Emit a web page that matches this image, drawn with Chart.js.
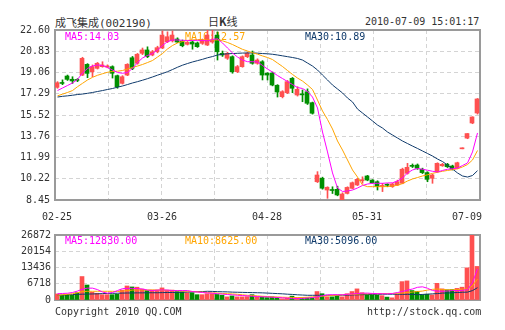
<!DOCTYPE html>
<html>
<head>
<meta charset="utf-8">
<script src="https://cdn.jsdelivr.net/npm/chart.js@4.4.1/dist/chart.umd.min.js"></script>
<style>
  body { margin: 0; background: #fff; }
  #wrap { position: relative; width: 505px; height: 330px; overflow: hidden;
          font-family: "DejaVu Sans Mono", monospace; font-size: 10px; color: #333; }
  #wrap canvas { position: absolute; left: 0; }
  .txt { position: absolute; white-space: nowrap; line-height: 12px; }
  .cjk { font-family: "Noto Sans CJK SC", sans-serif; }
</style>
</head>
<body>
<div id="wrap">
  <div class="txt" style="left:55px;top:16px;font-size:11px"><span class="cjk">成飞集成</span>(002190)</div>
  <div class="txt cjk" style="left:208px;top:15px;font-size:11px">日<b>K</b>线</div>
  <div class="txt" style="left:365px;top:16px">2010-07-09 15:01:17</div>
  <canvas id="priceChart" width="505" height="225" style="top:0"></canvas>
  <canvas id="volChart" width="505" height="105" style="top:225px"></canvas>
  <div class="txt" style="left:55px;top:306px">Copyright 2010 QQ.COM</div>
  <div class="txt" style="left:367px;top:306px">http://stock.qq.com</div>
</div>
<script>
// axis labels: date text and the session it sits under
const dateTicks = ['02-25', '03-26', '04-28', '05-31', '07-09'];
const dateIdx = [0, 21, 42, 62, 82];
const priceTicks = [8.45, 10.22, 11.99, 13.76, 15.52, 17.29, 19.06, 20.83, 22.60];
const volTicks = [0, 6718, 13436, 20154, 26872];

// daily candles, 85 sessions
const opens = [17.83, 18.22, 18.77, 18.50, 18.48, 18.85, 19.74, 19.13, 19.41, 19.55,
  19.52, 19.55, 18.80, 18.16, 18.85, 20.29, 19.83, 20.66, 20.94, 20.52,
  20.79, 21.10, 21.63, 21.70, 21.85, 21.68, 21.41, 21.60, 21.52, 21.49,
  21.35, 21.60, 22.18, 20.66, 20.25, 20.38, 19.13, 19.55, 20.38, 20.52,
  19.83, 19.96, 19.00, 19.02, 18.00, 17.05, 17.38, 18.58, 17.19, 17.25,
  17.46, 16.55, 9.97, 10.26, 9.28, 9.30, 9.34, 8.47, 9.00, 9.42,
  9.70, 10.05, 10.45, 10.11, 9.97, 9.58, 9.73, 9.56, 9.70, 9.84,
  10.67, 11.30, 11.36, 11.01, 10.73, 10.26, 10.81, 11.30, 11.42, 11.28,
  11.09, 12.71, 13.60, 14.86, 15.69];
const highs = [18.30, 18.45, 18.85, 18.71, 18.55, 20.33, 19.80, 19.69, 19.90, 19.96,
  19.70, 19.62, 18.85, 18.80, 19.80, 20.40, 20.65, 21.10, 21.20, 20.90,
  21.25, 22.52, 22.45, 22.52, 21.95, 21.77, 21.65, 21.70, 21.60, 21.85,
  22.60, 22.60, 22.45, 20.85, 20.75, 20.45, 19.65, 20.45, 20.75, 20.85,
  20.20, 20.05, 19.05, 19.10, 18.05, 17.55, 18.40, 18.65, 17.88, 17.61,
  17.70, 16.60, 10.81, 10.35, 9.55, 9.55, 9.60, 9.05, 9.55, 9.95,
  10.25, 10.38, 10.50, 10.15, 10.05, 9.84, 9.80, 9.85, 10.10, 11.10,
  11.50, 11.45, 11.45, 11.10, 10.80, 10.60, 11.55, 11.50, 11.50, 11.35,
  11.60, 12.71, 13.98, 15.38, 16.90];
const lows = [17.75, 18.05, 18.40, 18.15, 18.30, 18.80, 18.63, 18.71, 19.35, 19.50,
  19.45, 18.60, 17.75, 18.10, 18.80, 19.30, 19.75, 20.55, 20.30, 20.45,
  20.70, 21.05, 21.55, 21.60, 21.55, 21.20, 21.35, 21.00, 21.15, 21.40,
  21.30, 21.50, 20.10, 20.40, 20.15, 19.00, 19.05, 19.50, 20.30, 19.75,
  19.75, 18.44, 18.44, 17.95, 17.02, 16.95, 17.30, 17.38, 17.10, 16.63,
  16.40, 15.60, 9.90, 9.35, 8.59, 8.99, 8.80, 8.45, 8.95, 9.38,
  9.65, 9.84, 10.05, 9.85, 9.28, 9.15, 9.55, 9.50, 9.65, 9.80,
  10.60, 11.15, 11.00, 10.65, 9.97, 9.84, 10.75, 11.25, 11.15, 10.95,
  11.05, 12.71, 13.55, 14.80, 15.60];
const closes = [18.21, 18.15, 18.49, 18.36, 18.40, 20.24, 18.99, 19.55, 19.83, 19.69,
  19.60, 19.00, 17.88, 18.71, 19.74, 19.41, 20.58, 20.94, 20.38, 20.79,
  21.13, 22.18, 22.04, 22.18, 21.60, 21.29, 21.57, 21.43, 21.21, 21.77,
  22.18, 21.75, 20.79, 20.52, 20.66, 19.13, 19.55, 20.38, 20.66, 19.83,
  20.10, 18.85, 18.85, 18.02, 17.44, 17.47, 18.30, 17.75, 17.66, 17.20,
  16.50, 15.67, 10.53, 9.43, 9.51, 9.24, 8.87, 8.95, 9.50, 9.89,
  10.17, 10.14, 10.11, 9.89, 9.56, 9.66, 9.68, 9.78, 9.97, 11.01,
  11.17, 11.25, 11.09, 10.73, 10.17, 10.53, 11.50, 11.42, 11.22, 11.01,
  11.55, 12.71, 13.98, 15.36, 16.86];

// price moving averages
const ma5 = [17.56, 17.77, 17.98, 18.19, 18.48, 19.02, 19.40, 19.60, 19.69, 19.65,
  19.48, 19.27, 19.06, 19.00, 19.06, 19.40, 19.89, 20.27, 20.48, 20.64,
  20.94, 21.31, 21.64, 21.77, 21.77, 21.74, 21.73, 21.73, 21.74, 21.73,
  21.70, 21.81, 21.87, 21.52, 21.10, 20.69, 20.35, 20.10, 19.96, 19.96,
  19.94, 19.65, 19.35, 19.10, 18.81, 18.56, 18.31, 18.06, 17.81, 17.73,
  17.48, 17.02, 16.11, 14.11, 12.45, 10.70, 9.45, 9.16, 9.20, 9.28,
  9.45, 9.66, 9.78, 9.84, 9.84, 9.84, 9.87, 9.88, 10.03, 10.28,
  10.70, 10.95, 11.07, 11.01, 10.93, 10.84, 10.78, 10.91, 11.01, 11.05,
  11.11, 11.32, 11.53, 12.45, 14.03];
const ma10 = [17.12, 17.26, 17.40, 17.56, 17.88, 18.16, 18.44, 18.66, 18.83, 18.96,
  19.08, 19.15, 19.17, 19.23, 19.35, 19.48, 19.60, 19.73, 19.89, 20.06,
  20.35, 20.64, 21.02, 21.31, 21.52, 21.64, 21.73, 21.77, 21.79, 21.79,
  21.77, 21.77, 21.77, 21.70, 21.56, 21.39, 21.19, 20.99, 20.85, 20.71,
  20.59, 20.44, 20.31, 20.14, 19.85, 19.56, 19.23, 18.90, 18.60, 18.35,
  18.02, 17.65, 16.77, 15.86, 15.15, 14.36, 13.36, 12.61, 11.78, 10.95,
  10.36, 9.70, 9.56, 9.56, 9.56, 9.56, 9.57, 9.62, 9.67, 9.82,
  10.03, 10.20, 10.32, 10.45, 10.55, 10.67, 10.76, 10.84, 10.91, 10.97,
  11.05, 11.20, 11.40, 11.78, 12.57];
const ma30 = [17.02, 17.08, 17.12, 17.17, 17.23, 17.27, 17.33, 17.40, 17.48, 17.56,
  17.65, 17.73, 17.84, 17.94, 18.06, 18.19, 18.30, 18.42, 18.55, 18.69,
  18.84, 18.98, 19.13, 19.31, 19.50, 19.67, 19.81, 19.94, 20.05, 20.16,
  20.29, 20.39, 20.52, 20.58, 20.62, 20.64, 20.66, 20.68, 20.69, 20.69,
  20.67, 20.64, 20.62, 20.58, 20.52, 20.45, 20.38, 20.31, 20.23, 20.10,
  19.85, 19.60, 19.27, 18.85, 18.44, 18.02, 17.69, 17.36, 16.94, 16.61,
  16.02, 15.69, 15.36, 15.03, 14.69, 14.44, 14.11, 13.86, 13.61, 13.36,
  13.15, 12.94, 12.74, 12.53, 12.32, 12.11, 11.86, 11.65, 11.36, 11.03,
  10.70, 10.45, 10.36, 10.49, 10.89];

// volume (hands) and its moving averages
const volumes = [2500, 1950, 2300, 1950, 3000, 9700, 6200, 3200, 2800, 2200,
  2200, 2200, 2400, 4100, 5800, 5400, 5300, 4500, 3900, 4100,
  4100, 5000, 4100, 4100, 3500, 3400, 3000, 3000, 2200, 2200,
  2600, 2600, 2300, 2000, 1300, 1700, 1300, 1300, 1400, 2200,
  1300, 1300, 1000, 1300, 1000, 500, 700, 1600, 900, 900,
  900, 900, 3500, 2600, 1300, 1300, 1700, 1300, 2600, 3500,
  4600, 3000, 2200, 2100, 2000, 1800, 1200, 900, 2400, 7600,
  7900, 3900, 3600, 2200, 2400, 2100, 6900, 4600, 4200, 4300,
  4800, 5300, 13300, 26872, 13880];
const volMa5 = [2600, 2700, 2800, 3100, 3700, 4500, 4900, 4900, 4300, 3300,
  2800, 3100, 3900, 4700, 4800, 4800, 4700, 4550, 4100, 3900,
  4100, 4150, 4100, 3900, 3900, 3900, 3900, 3500, 3300, 3100,
  2900, 2800, 2600, 2450, 2250, 2150, 1950, 1850, 1700, 1550,
  1450, 1300, 1300, 1150, 1050, 900, 800, 650, 650, 650,
  800, 1000, 1350, 1750, 2150, 2200, 2200, 2150, 2350, 2550,
  2650, 2800, 2850, 2700, 2650, 2600, 2550, 2700, 3100, 3500,
  4100, 4550, 5250, 5450, 4850, 3900, 3700, 3600, 3700, 3900,
  3900, 4000, 4300, 7200, 12830];
const volMa10 = [1950, 2150, 2350, 2600, 3000, 3500, 3600, 3600, 3600, 3600,
  3600, 3600, 3500, 3700, 3900, 4100, 4150, 4150, 4150, 4150,
  4100, 4050, 3950, 3900, 3800, 3700, 3600, 3500, 3350, 3250,
  3100, 2950, 2850, 2700, 2600, 2500, 2350, 2150, 1950, 1850,
  1700, 1550, 1450, 1300, 1250, 1150, 1100, 1050, 1000, 1050,
  1150, 1300, 1450, 1550, 1700, 1850, 2000, 2150, 2250, 2350,
  2400, 2550, 2550, 2600, 2600, 2650, 2700, 2700, 2800, 2900,
  3100, 3300, 3500, 3700, 4100, 4400, 4550, 4350, 4200, 4200,
  4300, 4500, 4550, 5850, 8625];
const volMa30 = [1950, 2050, 2150, 2250, 2350, 2400, 2450, 2500, 2550, 2650,
  2700, 2750, 2800, 2850, 2900, 2900, 2950, 2950, 3000, 3000,
  3000, 3050, 3100, 3100, 3150, 3200, 3300, 3350, 3450, 3500,
  3600, 3550, 3450, 3400, 3350, 3250, 3200, 3150, 3100, 3050,
  3000, 2950, 2850, 2750, 2650, 2550, 2400, 2300, 2150, 2050,
  1950, 1950, 1950, 1950, 1950, 1950, 1950, 2000, 2000, 2100,
  2150, 2200, 2250, 2300, 2350, 2400, 2400, 2400, 2400, 2350,
  2350, 2300, 2200, 2300, 2400, 2550, 2650, 2850, 2900, 3000,
  3100, 3200, 3250, 3900, 5096];

const UP = '#ff5050', DOWN = '#008f00';
const C_MA5 = '#ff00ff', C_MA10 = '#ffa500', C_MA30 = '#0f3a6b';

const candleColors = opens.map((o, i) => closes[i] >= o ? UP : DOWN);
const last = arr => arr[arr.length - 1];
const pts = arr => arr.map((v, i) => ({ x: i, y: v }));

Chart.defaults.font.family = '"DejaVu Sans Mono", monospace';
Chart.defaults.font.size = 10;
Chart.defaults.color = '#333';

// frame around the plot area and the MA captions under the marks
const panelDecor = {
  id: 'panelDecor',
  beforeDatasetsDraw(chart, args, opts) {
    const { ctx, chartArea: a } = chart;
    ctx.save();
    ctx.strokeStyle = '#9a9a9a';
    ctx.lineWidth = 2;
    ctx.strokeRect(a.left, a.top, a.right - a.left, a.bottom - a.top);
    ctx.font = '10px "DejaVu Sans Mono"';
    ctx.textBaseline = 'middle';
    opts.items.forEach(it => {
      ctx.fillStyle = it.color;
      ctx.fillText(it.text, it.x, a.top + opts.dy);
    });
    ctx.restore();
  }
};

// 8 equal columns of dashed grid
const gridX = scale => {
  const span = scale.max - scale.min;
  scale.ticks = [];
  for (let k = 0; k <= 8; k++) scale.ticks.push({ value: scale.min + k * span / 8 });
};

const gridStyle = { color: '#d4d4d4', drawTicks: false, offset: false };
const dashed = { display: false, dash: [4, 3] };

function maLine(data, color, axis) {
  return { type: 'line', data: pts(data), borderColor: color, borderWidth: 1,
           pointRadius: 0, xAxisID: axis, order: 0 };
}

new Chart(document.getElementById('priceChart'), {
  type: 'bar',
  data: {
    datasets: [
      maLine(ma5, C_MA5, 'xw'),
      maLine(ma10, C_MA10, 'xw'),
      maLine(ma30, C_MA30, 'xw'),
      { type: 'bar', data: opens.map((o, i) => ({ x: i, y: [o, closes[i]] })),
        backgroundColor: candleColors, barThickness: 4, minBarLength: 1,
        grouped: false, xAxisID: 'x', order: 1 },
      { type: 'bar', data: lows.map((l, i) => ({ x: i, y: [l, highs[i]] })),
        backgroundColor: candleColors, barThickness: 1, minBarLength: 1,
        grouped: false, xAxisID: 'xw', order: 2 }
    ]
  },
  options: {
    responsive: false,
    animation: false,
    devicePixelRatio: 1,
    layout: { padding: { left: 0, right: 25, top: 30, bottom: 0 } },
    plugins: {
      legend: { display: false },
      tooltip: { enabled: false },
      panelDecor: {
        dy: 7,
        items: [
          { text: 'MA5:' + last(ma5).toFixed(2), color: C_MA5, x: 65 },
          { text: 'MA10:' + last(ma10).toFixed(2), color: C_MA10, x: 185 },
          { text: 'MA30:' + last(ma30).toFixed(2), color: C_MA30, x: 305 }
        ]
      }
    },
    scales: {
      x: {
        type: 'linear', min: -0.4, max: 84.6, offset: false,
        afterBuildTicks: gridX,
        afterFit: s => { s.height = 0; },
        grid: gridStyle, border: dashed,
        ticks: { display: false }
      },
      xd: {
        type: 'linear', position: 'bottom', min: -0.4, max: 84.6, offset: false,
        afterBuildTicks: s => { s.ticks = dateIdx.map(v => ({ value: v })); },
        afterFit: s => { s.height = 25; },
        grid: { display: false, drawTicks: false },
        border: { display: false },
        ticks: {
          autoSkip: false, maxRotation: 0, padding: 11,
          callback: (v, i) => dateTicks[i]
        }
      },
      xw: { type: 'linear', min: -0.5, max: 84.5, offset: false, display: false },
      y: {
        min: 8.45, max: 22.60,
        afterBuildTicks: s => { s.ticks = priceTicks.map(v => ({ value: v })); },
        afterFit: s => { s.width = 55; },
        grid: gridStyle, border: dashed,
        ticks: { padding: 5, callback: v => v.toFixed(2) }
      }
    }
  },
  plugins: [panelDecor]
});

new Chart(document.getElementById('volChart'), {
  type: 'bar',
  data: {
    datasets: [
      maLine(volMa5, C_MA5, 'xw'),
      maLine(volMa10, C_MA10, 'xw'),
      maLine(volMa30, C_MA30, 'xw'),
      { type: 'bar', data: pts(volumes), backgroundColor: candleColors,
        barThickness: 4, grouped: false, xAxisID: 'x', order: 1 }
    ]
  },
  options: {
    responsive: false,
    animation: false,
    devicePixelRatio: 1,
    layout: { padding: { left: 0, right: 25, top: 6, bottom: 30 } },
    plugins: {
      legend: { display: false },
      tooltip: { enabled: false },
      panelDecor: {
        dy: 6,
        items: [
          { text: 'MA5:' + last(volMa5).toFixed(2), color: C_MA5, x: 65 },
          { text: 'MA10:' + last(volMa10).toFixed(2), color: C_MA10, x: 185 },
          { text: 'MA30:' + last(volMa30).toFixed(2), color: C_MA30, x: 305 }
        ]
      }
    },
    scales: {
      x: {
        type: 'linear', min: -0.4, max: 84.6, offset: false,
        afterBuildTicks: gridX,
        afterFit: s => { s.height = 0; },
        grid: gridStyle, border: dashed,
        ticks: { display: false }
      },
      xw: { type: 'linear', min: -0.5, max: 84.5, offset: false, display: false },
      y: {
        min: 0, max: 26872,
        afterBuildTicks: s => { s.ticks = volTicks.map(v => ({ value: v })); },
        afterFit: s => { s.width = 55; },
        grid: gridStyle, border: dashed,
        ticks: { padding: 4, callback: v => String(v) }
      }
    }
  },
  plugins: [panelDecor]
});
</script>
</body>
</html>
